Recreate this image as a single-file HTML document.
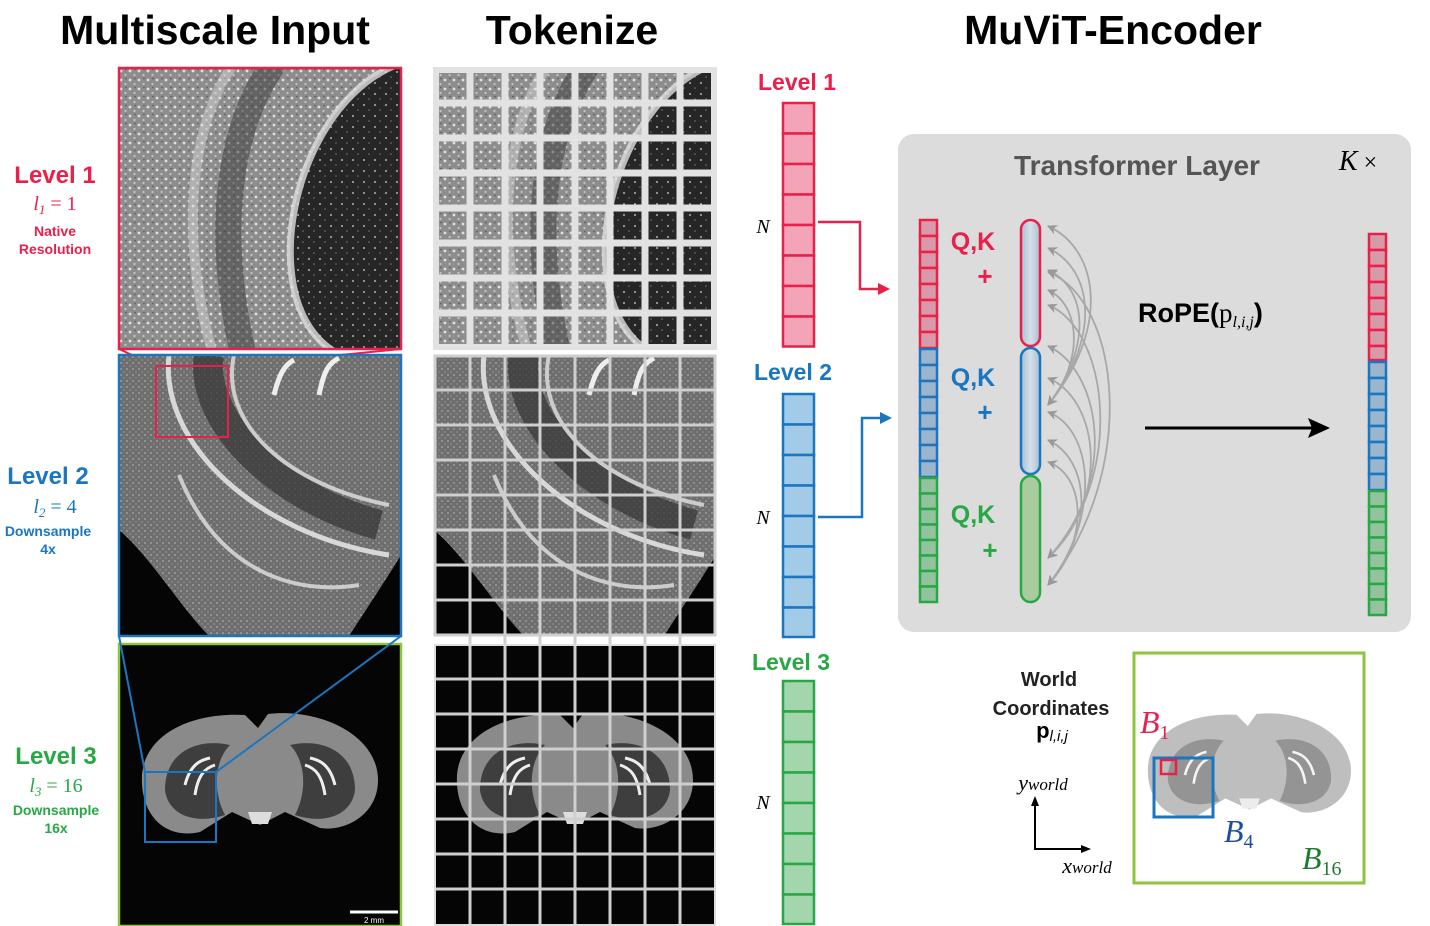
<!DOCTYPE html>
<html><head><meta charset="utf-8"><style>
html,body{margin:0;padding:0;background:#fff;}
svg{display:block;}
text{font-family:"Liberation Sans",sans-serif;}
.m{font-family:"Liberation Serif",serif;font-style:italic;}
</style></head><body>
<svg width="1430" height="926" viewBox="0 0 1430 926" xmlns="http://www.w3.org/2000/svg">
<defs>
<pattern id="spk" width="9" height="9" patternUnits="userSpaceOnUse"><rect width="9" height="9" fill="#8d8d8d"/><circle cx="2" cy="3" r="1.4" fill="#e0e0e0"/><circle cx="6.5" cy="7" r="1.1" fill="#c5c5c5"/><circle cx="7" cy="1.5" r="0.8" fill="#555"/></pattern>
<pattern id="spkd" width="11" height="11" patternUnits="userSpaceOnUse"><rect width="11" height="11" fill="#262626"/><circle cx="3" cy="4" r="1.1" fill="#9a9a9a"/><circle cx="8" cy="9" r="0.8" fill="#777"/></pattern>
<pattern id="spk2" width="6" height="6" patternUnits="userSpaceOnUse"><rect width="6" height="6" fill="#6e6e6e"/><circle cx="2" cy="2" r="0.9" fill="#aaa"/><circle cx="5" cy="5" r="0.7" fill="#999"/></pattern>
<clipPath id="c1"><rect x="0" y="0" width="282" height="281"/></clipPath>
<g id="img1"><g clip-path="url(#c1)">
<rect width="282" height="281" fill="url(#spk)"/>
<path d="M282,-5 C210,20 165,120 172,200 C176,250 200,281 230,290 L290,290 Z" fill="url(#spkd)"/>
<path d="M282,-5 C210,20 165,120 172,200 C176,250 200,281 230,290" fill="none" stroke="#e0e0e0" stroke-width="7" opacity="0.8"/>
<path d="M155,-5 C110,60 95,160 125,290" fill="none" stroke="#3a3a3a" stroke-width="26" opacity="0.5"/>
<path d="M115,-5 C70,60 60,170 95,290" fill="none" stroke="#ddd" stroke-width="10" opacity="0.45"/>
</g></g>
<g id="img2"><g clip-path="url(#c1)">
<rect width="282" height="281" fill="url(#spk2)"/>
<path d="M0,175 C30,200 60,250 90,281 L0,281 Z" fill="#050505"/>
<path d="M230,281 C250,250 270,220 282,200 L282,281 Z" fill="#050505"/>
<path d="M50,0 C40,90 140,180 270,200" fill="none" stroke="#d8d8d8" stroke-width="5"/>
<path d="M90,0 C80,60 150,140 260,170" fill="none" stroke="#333" stroke-width="30" opacity="0.7"/>
<path d="M115,0 C100,70 170,130 270,150" fill="none" stroke="#ccc" stroke-width="4"/>
<path d="M155,40 C160,20 165,10 175,5" fill="none" stroke="#eee" stroke-width="5"/>
<path d="M200,40 C205,15 210,8 220,3" fill="none" stroke="#eee" stroke-width="5"/>
<path d="M60,120 C100,220 180,240 240,230" fill="none" stroke="#ccc" stroke-width="4"/>
</g></g>
<g id="brain">
<path d="M142,775 C145,735 190,712 245,715 L258,728 L268,714 C320,708 378,735 378,780 C378,815 345,832 320,828 L285,812 L260,825 L232,812 L200,832 C165,840 140,815 142,775 Z" fill="#8a8a8a"/>
<path d="M165,790 C165,750 200,738 230,745 C215,760 212,790 225,815 C195,825 168,815 165,790 Z" fill="#3e3e3e"/>
<path d="M355,790 C355,750 320,738 290,745 C305,760 308,790 295,815 C325,825 352,815 355,790 Z" fill="#3e3e3e"/>
<path d="M185,785 C190,765 200,760 210,758 M195,795 C198,775 205,768 215,765" stroke="#eee" stroke-width="3" fill="none"/>
<path d="M335,785 C330,765 320,760 310,758 M325,795 C322,775 315,768 305,765" stroke="#eee" stroke-width="3" fill="none"/>
<path d="M248,812 L272,812 L268,824 L252,824 Z" fill="#ddd"/>
</g>
<linearGradient id="cap" x1="0" x2="1"><stop offset="0" stop-color="#a9bfd2"/><stop offset="0.5" stop-color="#d5e0ea"/><stop offset="1" stop-color="#a9bfd2"/></linearGradient>
<marker id="ah" markerUnits="userSpaceOnUse" markerWidth="10" markerHeight="10" refX="9" refY="5" orient="auto-start-reverse"><path d="M10,5 L0,0 L3,5 L0,10 Z" fill="#999"/></marker>
</defs>

<!-- titles -->
<text x="215" y="44" font-size="41" font-weight="bold" text-anchor="middle" fill="#000">Multiscale Input</text>
<text x="572" y="44" font-size="41" font-weight="bold" text-anchor="middle" fill="#000">Tokenize</text>
<text x="1113" y="44" font-size="41" font-weight="bold" text-anchor="middle" fill="#000">MuViT-Encoder</text>

<!-- left labels -->
<text x="55" y="183" font-size="24" font-weight="bold" text-anchor="middle" fill="#e8204a">Level 1</text>
<text x="55" y="210" font-size="20" text-anchor="middle" fill="#e8204a" class="m">l<tspan font-size="13" dy="4">1</tspan><tspan dy="-4" font-style="normal"> = 1</tspan></text>
<text x="55" y="236" font-size="14" font-weight="bold" text-anchor="middle" fill="#e8204a">Native</text>
<text x="55" y="254" font-size="14" font-weight="bold" text-anchor="middle" fill="#e8204a">Resolution</text>
<text x="48" y="484" font-size="24" font-weight="bold" text-anchor="middle" fill="#1a76c0">Level 2</text>
<text x="55" y="513" font-size="20" text-anchor="middle" fill="#1a76c0" class="m">l<tspan font-size="13" dy="4">2</tspan><tspan dy="-4" font-style="normal"> = 4</tspan></text>
<text x="48" y="536" font-size="14" font-weight="bold" text-anchor="middle" fill="#1a76c0">Downsample</text>
<text x="48" y="554" font-size="14" font-weight="bold" text-anchor="middle" fill="#1a76c0">4x</text>
<text x="56" y="764" font-size="24" font-weight="bold" text-anchor="middle" fill="#27a844">Level 3</text>
<text x="56" y="792" font-size="20" text-anchor="middle" fill="#27a844" class="m">l<tspan font-size="13" dy="4">3</tspan><tspan dy="-4" font-style="normal"> = 16</tspan></text>
<text x="56" y="815" font-size="14" font-weight="bold" text-anchor="middle" fill="#27a844">Downsample</text>
<text x="56" y="833" font-size="14" font-weight="bold" text-anchor="middle" fill="#27a844">16x</text>

<!-- input images -->
<use href="#img1" x="119" y="68"/>
<rect x="119" y="68" width="282" height="281" fill="none" stroke="#e8204a" stroke-width="2.5"/>
<polygon points="119,349 401,349 228,366 156,366" fill="none" stroke="#e8204a" stroke-width="2"/>
<use href="#img2" x="119" y="355"/>
<rect x="119" y="355" width="282" height="281" fill="none" stroke="#1a76c0" stroke-width="2.5"/>
<rect x="156" y="366" width="72" height="71" fill="none" stroke="#e8204a" stroke-width="2"/>
<rect x="119" y="644" width="282" height="282" fill="#050505"/>
<use href="#brain"/>
<rect x="119" y="644" width="282" height="282" fill="none" stroke="#8cc63f" stroke-width="2.5"/>
<line x1="119" y1="636" x2="145" y2="772" stroke="#1a76c0" stroke-width="2"/>
<line x1="401" y1="636" x2="216" y2="772" stroke="#1a76c0" stroke-width="2"/>
<rect x="145" y="772" width="71" height="70" fill="none" stroke="#1a76c0" stroke-width="2"/>
<line x1="350" y1="912" x2="398" y2="912" stroke="#fff" stroke-width="3"/>
<text x="374" y="923" font-size="8" fill="#fff" text-anchor="middle">2 mm</text>

<!-- tokenize -->
<rect x="434" y="68" width="282" height="281" fill="#e2e2e2"/>
<g transform="translate(315,0)"><use href="#img1" x="119" y="68"/></g>
<g stroke="#e2e2e2" stroke-width="7">
<line x1="470" y1="68" x2="470" y2="349"/><line x1="505" y1="68" x2="505" y2="349"/><line x1="540" y1="68" x2="540" y2="349"/><line x1="575" y1="68" x2="575" y2="349"/><line x1="610" y1="68" x2="610" y2="349"/><line x1="645" y1="68" x2="645" y2="349"/><line x1="680" y1="68" x2="680" y2="349"/>
<line x1="434" y1="103" x2="716" y2="103"/><line x1="434" y1="138" x2="716" y2="138"/><line x1="434" y1="173" x2="716" y2="173"/><line x1="434" y1="208" x2="716" y2="208"/><line x1="434" y1="243" x2="716" y2="243"/><line x1="434" y1="278" x2="716" y2="278"/><line x1="434" y1="313" x2="716" y2="313"/>
</g>
<rect x="436" y="70" width="278" height="277" fill="none" stroke="#e2e2e2" stroke-width="6"/>
<g transform="translate(315,0)"><use href="#img2" x="119" y="355"/></g>
<g transform="translate(315,0)"><rect x="119" y="644" width="282" height="282" fill="#050505"/><use href="#brain"/></g>
<g stroke="#cfcfcf" stroke-width="3">
<line x1="470" y1="355" x2="470" y2="926"/><line x1="505" y1="355" x2="505" y2="926"/><line x1="540" y1="355" x2="540" y2="926"/><line x1="575" y1="355" x2="575" y2="926"/><line x1="610" y1="355" x2="610" y2="926"/><line x1="645" y1="355" x2="645" y2="926"/><line x1="680" y1="355" x2="680" y2="926"/>
<line x1="434" y1="390" x2="716" y2="390"/><line x1="434" y1="425" x2="716" y2="425"/><line x1="434" y1="460" x2="716" y2="460"/><line x1="434" y1="495" x2="716" y2="495"/><line x1="434" y1="530" x2="716" y2="530"/><line x1="434" y1="565" x2="716" y2="565"/><line x1="434" y1="600" x2="716" y2="600"/>
<line x1="434" y1="679" x2="716" y2="679"/><line x1="434" y1="714" x2="716" y2="714"/><line x1="434" y1="749" x2="716" y2="749"/><line x1="434" y1="784" x2="716" y2="784"/><line x1="434" y1="819" x2="716" y2="819"/><line x1="434" y1="854" x2="716" y2="854"/><line x1="434" y1="889" x2="716" y2="889"/>
</g>
<rect x="435" y="356" width="280" height="279" fill="none" stroke="#cfcfcf" stroke-width="3"/>
<rect x="435" y="645" width="280" height="280" fill="none" stroke="#ddd" stroke-width="2"/>

<!-- token columns -->
<text x="797" y="90" font-size="23" font-weight="bold" text-anchor="middle" fill="#e8204a">Level 1</text>
<text x="793" y="380" font-size="23" font-weight="bold" text-anchor="middle" fill="#1a76c0">Level 2</text>
<text x="791" y="670" font-size="23" font-weight="bold" text-anchor="middle" fill="#27a844">Level 3</text>
<text x="763" y="233" font-size="20" class="m" text-anchor="middle">N</text>
<text x="763" y="524" font-size="20" class="m" text-anchor="middle">N</text>
<text x="763" y="809" font-size="20" class="m" text-anchor="middle">N</text>
<g stroke-width="2.5">
<g fill="#f4a4b8" stroke="#e8204a">
<rect x="783" y="103" width="31" height="30.5"/><rect x="783" y="133.5" width="31" height="30.5"/><rect x="783" y="164" width="31" height="30.5"/><rect x="783" y="194.5" width="31" height="30.5"/><rect x="783" y="225" width="31" height="30.5"/><rect x="783" y="255.5" width="31" height="30.5"/><rect x="783" y="286" width="31" height="30.5"/><rect x="783" y="316.5" width="31" height="30"/></g>
<g fill="#a2cbe7" stroke="#1a76c0">
<rect x="783" y="394" width="31" height="30.5"/><rect x="783" y="424.5" width="31" height="30.5"/><rect x="783" y="455" width="31" height="30.5"/><rect x="783" y="485.5" width="31" height="30.5"/><rect x="783" y="516" width="31" height="30.5"/><rect x="783" y="546.5" width="31" height="30.5"/><rect x="783" y="577" width="31" height="30.5"/><rect x="783" y="607.5" width="31" height="29.5"/></g>
<g fill="#a3d6ad" stroke="#27a844">
<rect x="783" y="681" width="31" height="30.5"/><rect x="783" y="711.5" width="31" height="30.5"/><rect x="783" y="742" width="31" height="30.5"/><rect x="783" y="772.5" width="31" height="30.5"/><rect x="783" y="803" width="31" height="30.5"/><rect x="783" y="833.5" width="31" height="30.5"/><rect x="783" y="864" width="31" height="30.5"/><rect x="783" y="894.5" width="31" height="29.5"/></g>
</g>
<polyline points="818,222 860,222 860,289 880,289" fill="none" stroke="#e8204a" stroke-width="2.5"/>
<polygon points="890,289 878,283 878,295" fill="#e8204a"/>
<polyline points="818,517 862,517 862,418 882,418" fill="none" stroke="#1a76c0" stroke-width="2.5"/>
<polygon points="892,418 880,412 880,424" fill="#1a76c0"/>

<!-- transformer box -->
<rect x="898" y="134" width="513" height="498" rx="16" fill="#dcdcdc"/>
<text x="1137" y="175" font-size="28" font-weight="bold" text-anchor="middle" fill="#555">Transformer Layer</text>
<text x="1358" y="170" font-size="28" class="m" text-anchor="middle" fill="#000">K<tspan font-style="normal" font-size="24"> ×</tspan></text>

<g stroke-width="2.5">
<g fill="#d89aa8" stroke="#e8204a">
<rect x="920" y="220" width="17" height="16"/><rect x="920" y="236" width="17" height="16"/><rect x="920" y="252" width="17" height="16"/><rect x="920" y="268" width="17" height="16"/><rect x="920" y="284" width="17" height="16"/><rect x="920" y="300" width="17" height="16"/><rect x="920" y="316" width="17" height="16"/><rect x="920" y="332" width="17" height="16"/></g>
<g fill="#9ab5cc" stroke="#1a76c0">
<rect x="920" y="349" width="17" height="16"/><rect x="920" y="365" width="17" height="16"/><rect x="920" y="381" width="17" height="16"/><rect x="920" y="397" width="17" height="16"/><rect x="920" y="413" width="17" height="16"/><rect x="920" y="429" width="17" height="16"/><rect x="920" y="445" width="17" height="16"/><rect x="920" y="461" width="17" height="16"/></g>
<g fill="#93c29e" stroke="#27a844">
<rect x="920" y="478" width="17" height="15.5"/><rect x="920" y="493.5" width="17" height="15.5"/><rect x="920" y="509" width="17" height="15.5"/><rect x="920" y="524.5" width="17" height="15.5"/><rect x="920" y="540" width="17" height="15.5"/><rect x="920" y="555.5" width="17" height="15.5"/><rect x="920" y="571" width="17" height="15.5"/><rect x="920" y="586.5" width="17" height="15.5"/></g>
<g fill="#d89aa8" stroke="#e8204a">
<rect x="1369" y="234" width="17" height="16"/><rect x="1369" y="250" width="17" height="16"/><rect x="1369" y="266" width="17" height="16"/><rect x="1369" y="282" width="17" height="16"/><rect x="1369" y="298" width="17" height="16"/><rect x="1369" y="314" width="17" height="16"/><rect x="1369" y="330" width="17" height="16"/><rect x="1369" y="346" width="17" height="14"/></g>
<g fill="#9ab5cc" stroke="#1a76c0">
<rect x="1369" y="362" width="17" height="16"/><rect x="1369" y="378" width="17" height="16"/><rect x="1369" y="394" width="17" height="16"/><rect x="1369" y="410" width="17" height="16"/><rect x="1369" y="426" width="17" height="16"/><rect x="1369" y="442" width="17" height="16"/><rect x="1369" y="458" width="17" height="16"/><rect x="1369" y="474" width="17" height="16"/></g>
<g fill="#93c29e" stroke="#27a844">
<rect x="1369" y="491" width="17" height="15.5"/><rect x="1369" y="506.5" width="17" height="15.5"/><rect x="1369" y="522" width="17" height="15.5"/><rect x="1369" y="537.5" width="17" height="15.5"/><rect x="1369" y="553" width="17" height="15.5"/><rect x="1369" y="568.5" width="17" height="15.5"/><rect x="1369" y="584" width="17" height="15.5"/><rect x="1369" y="599.5" width="17" height="15.5"/></g>
</g>

<text x="973" y="250" font-size="25" font-weight="bold" text-anchor="middle" fill="#e8204a">Q,K</text>
<text x="985" y="285" font-size="26" font-weight="bold" text-anchor="middle" fill="#e8204a">+</text>
<text x="973" y="386" font-size="25" font-weight="bold" text-anchor="middle" fill="#1a76c0">Q,K</text>
<text x="985" y="421" font-size="26" font-weight="bold" text-anchor="middle" fill="#1a76c0">+</text>
<text x="973" y="523" font-size="25" font-weight="bold" text-anchor="middle" fill="#27a844">Q,K</text>
<text x="990" y="559" font-size="26" font-weight="bold" text-anchor="middle" fill="#27a844">+</text>

<rect x="1021" y="220" width="19" height="126" rx="9.5" fill="url(#cap)" stroke="#e8204a" stroke-width="2.5"/>
<rect x="1021" y="348" width="19" height="126" rx="9.5" fill="url(#cap)" stroke="#1a76c0" stroke-width="2.5"/>
<rect x="1021" y="476" width="19" height="126" rx="9.5" fill="#a9cc9e" stroke="#27a844" stroke-width="2.5"/>

<g fill="none" stroke="#a8a8a8" stroke-width="1.8" marker-start="url(#ah)" marker-end="url(#ah)">
<path d="M1048,226 C1100,250 1110,330 1048,405"/>
<path d="M1048,248 C1095,270 1100,340 1048,405"/>
<path d="M1048,270 C1090,290 1090,350 1048,405"/>
<path d="M1048,290 C1080,305 1085,360 1048,405"/>
<path d="M1048,272 C1120,300 1140,470 1048,585"/>
<path d="M1048,305 C1110,330 1125,480 1048,558"/>
<path d="M1048,346 C1100,370 1120,480 1048,558"/>
<path d="M1048,378 C1100,400 1110,500 1048,558"/>
<path d="M1048,412 C1095,430 1100,520 1048,585"/>
<path d="M1048,440 C1090,460 1095,530 1048,585"/>
<path d="M1048,462 C1085,475 1090,540 1048,585"/>
</g>

<text x="1138" y="322" font-size="27" font-weight="bold" fill="#000">RoPE(<tspan font-weight="normal" font-family="Liberation Serif,serif">p</tspan><tspan class="m" font-weight="normal" font-size="16" dy="5">l,i,j</tspan><tspan dy="-5">)</tspan></text>
<line x1="1145" y1="428" x2="1312" y2="428" stroke="#000" stroke-width="3"/>
<polygon points="1330,428 1308,418 1312,428 1308,438" fill="#000"/>

<!-- world coords -->
<text x="1049" y="686" font-size="20" font-weight="bold" text-anchor="middle" fill="#222">World</text>
<text x="1051" y="715" font-size="20" font-weight="bold" text-anchor="middle" fill="#222">Coordinates</text>
<text x="1052" y="738" font-size="22" text-anchor="middle" font-family="Liberation Serif,serif" font-weight="bold">p<tspan font-size="15" font-style="italic" font-weight="normal" dy="3">l,i,j</tspan></text>
<text x="1043" y="790" font-size="22" class="m" text-anchor="middle">y<tspan font-size="17">world</tspan></text>
<text x="1087" y="873" font-size="22" class="m" text-anchor="middle">x<tspan font-size="17">world</tspan></text>
<polyline points="1035,800 1035,849 1083,849" fill="none" stroke="#000" stroke-width="2"/>
<polygon points="1035,796 1031,806 1039,806" fill="#000"/>
<polygon points="1091,849 1081,845 1081,853" fill="#000"/>

<rect x="1134" y="653" width="230" height="230" fill="#fff" stroke="#8cc63f" stroke-width="3"/>
<g transform="translate(1148,100) scale(0.86)" opacity="0.55"><use href="#brain" x="-142" y="0"/></g>
<rect x="1154" y="758" width="59" height="59" fill="none" stroke="#1a76c0" stroke-width="3"/>
<rect x="1161" y="760" width="15" height="14" fill="none" stroke="#e8204a" stroke-width="2.5"/>
<text x="1140" y="733" font-size="32" class="m" fill="#e8204a">B<tspan font-size="20" font-style="normal" dy="6">1</tspan></text>
<text x="1224" y="842" font-size="32" class="m" fill="#1a4fa0">B<tspan font-size="20" font-style="normal" dy="6">4</tspan></text>
<text x="1302" y="869" font-size="32" class="m" fill="#1e7a2e">B<tspan font-size="20" font-style="normal" dy="6">16</tspan></text>
</svg>
</body></html>
